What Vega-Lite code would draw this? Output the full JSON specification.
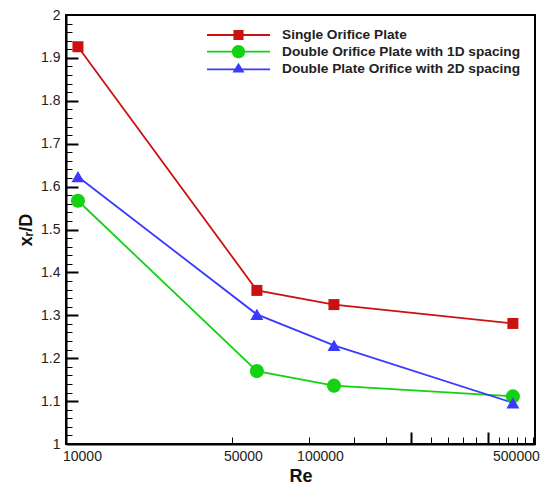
{
  "$schema": "https://vega.github.io/schema/vega-lite/v6.json",
  "width": 469,
  "height": 429,
  "autosize": "none",
  "padding": {"left": 66, "top": 15, "right": 9, "bottom": 42},
  "background": "white",
  "config": {
    "font": "Liberation Sans",
    "view": {"stroke": "black", "strokeWidth": 2},
    "axis": {"grid": false, "domainColor": "black", "domainWidth": 2, "labelColor": "#222", "titleColor": "#111"},
    "legend": {"padding": 0, "labelFont": "Liberation Sans", "labelFontWeight": "bold", "labelFontSize": 13.7, "labelColor": "#222", "labelOffset": 12, "labelLimit": 400, "symbolSize": 3969, "symbolStrokeWidth": 0, "symbolOpacity": 1, "orient": "none"}
  },
  "data": {
    "values": [
      {"Re": 10000, "xr": 1.926, "series": "Single Orifice Plate"},
      {"Re": 50000, "xr": 1.358, "series": "Single Orifice Plate"},
      {"Re": 100000, "xr": 1.325, "series": "Single Orifice Plate"},
      {"Re": 500000, "xr": 1.281, "series": "Single Orifice Plate"},
      {"Re": 10000, "xr": 1.567, "series": "Double Orifice Plate with 1D spacing"},
      {"Re": 50000, "xr": 1.170, "series": "Double Orifice Plate with 1D spacing"},
      {"Re": 100000, "xr": 1.136, "series": "Double Orifice Plate with 1D spacing"},
      {"Re": 500000, "xr": 1.111, "series": "Double Orifice Plate with 1D spacing"},
      {"Re": 10000, "xr": 1.623, "series": "Double Plate Orifice with 2D spacing"},
      {"Re": 50000, "xr": 1.302, "series": "Double Plate Orifice with 2D spacing"},
      {"Re": 100000, "xr": 1.230, "series": "Double Plate Orifice with 2D spacing"},
      {"Re": 500000, "xr": 1.096, "series": "Double Plate Orifice with 2D spacing"}
    ]
  },
  "layer": [
    {
      "mark": {"type": "line", "strokeWidth": 1.8},
      "encoding": {
        "x": {
          "field": "Re", "type": "quantitative",
          "scale": {"type": "log", "domain": [8980, 610000], "nice": false},
          "axis": {
            "orient": "bottom", "title": null, "labels": false,
            "values": [40000, 80000, 120000, 160000, 240000, 280000, 320000, 360000, 440000, 480000, 520000, 560000, 600000],
            "tickSize": -7, "tickWidth": 1, "tickColor": "black"
          }
        },
        "y": {
          "field": "xr", "type": "quantitative",
          "scale": {"domain": [1, 2], "nice": false, "zero": false},
          "axis": {
            "orient": "left", "title": null, "labels": false,
            "values": [1.02, 1.04, 1.06, 1.08, 1.12, 1.14, 1.16, 1.18, 1.22, 1.24, 1.26, 1.28, 1.32, 1.34, 1.36, 1.38, 1.42, 1.44, 1.46, 1.48, 1.52, 1.54, 1.56, 1.58, 1.62, 1.64, 1.66, 1.68, 1.72, 1.74, 1.76, 1.78, 1.82, 1.84, 1.86, 1.88, 1.92, 1.94, 1.96, 1.98],
            "tickSize": -6, "tickWidth": 1, "tickColor": "black"
          }
        },
        "color": {
          "field": "series", "type": "nominal",
          "scale": {
            "domain": ["Single Orifice Plate", "Double Orifice Plate with 1D spacing", "Double Plate Orifice with 2D spacing"],
            "range": ["#cc1111", "#12d212", "#3a3aff"]
          },
          "legend": null
        }
      }
    },
    {
      "transform": [{"filter": "datum.series === 'Single Orifice Plate'"}],
      "mark": {"type": "point", "filled": true, "opacity": 1, "shape": "square", "size": 121},
      "encoding": {
        "x": {
          "field": "Re", "type": "quantitative",
          "axis": {
            "orient": "bottom", "title": "Re", "ticks": false, "domain": false,
            "values": [10000, 50000, 100000, 500000], "format": "d",
            "labelFontSize": 14, "labelPadding": 5, "labelFlush": false, "labelOverlap": false,
            "labelOffset": {"condition": [{"test": "datum.value == 10000", "value": 4}, {"test": "datum.value == 500000", "value": 3}], "value": -14},
            "titleFontSize": 18, "titleFontWeight": "bold", "titlePadding": 4
          }
        },
        "y": {
          "field": "xr", "type": "quantitative",
          "axis": {
            "orient": "left", "title": "xᵣ/D", "ticks": false, "domain": false,
            "values": [1, 1.1, 1.2, 1.3, 1.4, 1.5, 1.6, 1.7, 1.8, 1.9, 2], "format": ".2~f",
            "labelFontSize": 14, "labelPadding": 6, "labelFlush": false, "labelOverlap": false,
            "titleFontSize": 18, "titleFontWeight": "bold", "titlePadding": 5
          }
        },
        "color": {
          "field": "series", "type": "nominal",
          "scale": {"domain": ["Single Orifice Plate"], "range": ["#cc1111"]},
          "legend": {"title": null, "legendX": 141, "legendY": -11.5, "symbolType": "M-1,-0.029L1,-0.029L1,0.029L-1,0.029Z M-0.16,-0.16L0.16,-0.16L0.16,0.16L-0.16,0.16Z"}
        }
      }
    },
    {
      "transform": [{"filter": "datum.series === 'Double Orifice Plate with 1D spacing'"}],
      "mark": {"type": "point", "filled": true, "opacity": 1, "shape": "circle", "size": 200},
      "encoding": {
        "x": {
          "field": "Re", "type": "quantitative",
          "axis": {
            "orient": "bottom", "title": null, "labels": false, "domain": false,
            "values": [200000, 400000], "tickSize": -12, "tickWidth": 2, "tickColor": "black"
          }
        },
        "y": {
          "field": "xr", "type": "quantitative",
          "axis": {
            "orient": "left", "title": null, "labels": false, "domain": false,
            "values": [1.1, 1.2, 1.3, 1.4, 1.5, 1.6, 1.7, 1.8, 1.9],
            "tickSize": -12, "tickWidth": 2, "tickColor": "black"
          }
        },
        "color": {
          "field": "series", "type": "nominal",
          "scale": {"domain": ["Double Orifice Plate with 1D spacing"], "range": ["#12d212"]},
          "legend": {"title": null, "legendX": 141, "legendY": 5.2, "symbolType": "M-1,-0.029L1,-0.029L1,0.029L-1,0.029Z M-0.21,0A0.21,0.21 0 1 1 0.21,0A0.21,0.21 0 1 1 -0.21,0Z"}
        }
      }
    },
    {
      "transform": [{"filter": "datum.series === 'Double Plate Orifice with 2D spacing'"}],
      "mark": {"type": "point", "filled": true, "opacity": 1, "shape": "triangle-up", "size": 169},
      "encoding": {
        "x": {"field": "Re", "type": "quantitative", "axis": null},
        "y": {"field": "xr", "type": "quantitative", "axis": null},
        "color": {
          "field": "series", "type": "nominal",
          "scale": {"domain": ["Double Plate Orifice with 2D spacing"], "range": ["#3a3aff"]},
          "legend": {"title": null, "legendX": 141, "legendY": 22.8, "symbolType": "M-1,-0.029L1,-0.029L1,0.029L-1,0.029Z M0,-0.21L0.19,0.1L-0.19,0.1Z"}
        }
      }
    }
  ],
  "resolve": {"axis": {"x": "independent", "y": "independent"}, "scale": {"color": "independent"}}
}
